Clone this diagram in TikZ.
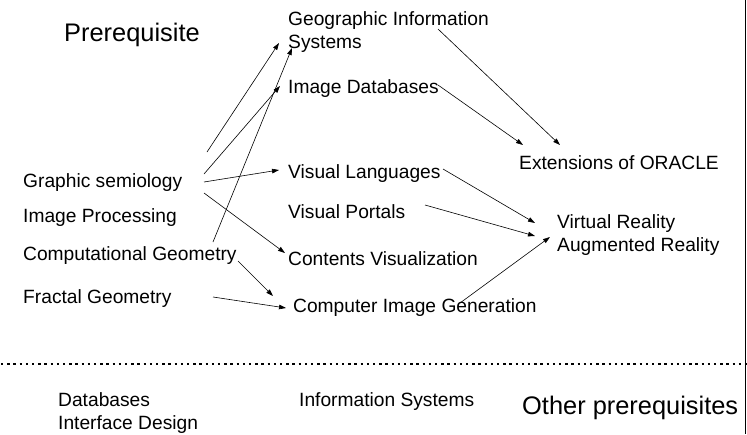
\documentclass[tikz,border=0pt]{standalone}
\usepackage{fontspec}
\setmainfont{Liberation Sans}
\usetikzlibrary{arrows.meta}

\tikzset{
  lbl/.style={anchor=base west, inner sep=0pt, align=left,
              font=\fontsize{19.2}{22.8}\selectfont},
  title/.style={anchor=base west, inner sep=0pt,
                font=\fontsize{25.4}{30}\selectfont},
  link/.style={line width=0.6pt, -{Triangle[length=7pt,width=4.6pt]}},
  divider/.style={line width=2.4pt, dash pattern=on 2.4pt off 3.8pt},
}

\begin{document}
\begin{tikzpicture}[x=1pt, y=-1pt]
  \useasboundingbox (0,0) rectangle (747,434);

  % frame edge on the right and the dotted separator
  \draw[line width=1.6pt] (745.5,0) -- (745.5,434);
  \draw[divider] (1,364) -- (747,364);

  % headings
  \node[title] (pre)   at (64,41)  {Prerequisite};
  \node[title] (other) at (522,414) {Other prerequisites};

  % left column
  \node[lbl] (gs)  at (23,187) {Graphic semiology};
  \node[lbl] (ip)  at (23,222) {Image Processing};
  \node[lbl] (cg)  at (23,260) {Computational Geometry};
  \node[lbl] (fg)  at (23,303) {Fractal Geometry};

  % middle column (two-line nodes are placed by their last baseline)
  \node[lbl] (gis) at (288,48)  {Geographic Information\\Systems};
  \node[lbl] (idb) at (288,93)  {Image Databases};
  \node[lbl] (vl)  at (288,178) {Visual Languages};
  \node[lbl] (vp)  at (288,218) {Visual Portals};
  \node[lbl] (cv)  at (288,265) {Contents Visualization};
  \node[lbl] (cig) at (293,312) {Computer Image Generation};

  % right column
  \node[lbl] (ora) at (519,169) {Extensions of ORACLE};
  \node[lbl] (vr)  at (557,251) {Virtual Reality\\Augmented Reality};

  % other prerequisites
  \node[lbl] (db)  at (58,429)  {Databases\\Interface Design};
  \node[lbl] (is)  at (299,406) {Information Systems};

  % connector end points
  \coordinate (s1)  at (207,152);
  \coordinate (t1)  at (279,43);
  \coordinate (s2)  at (204,174);
  \coordinate (t2)  at (280,86);
  \coordinate (s3)  at (213,242);
  \coordinate (t3)  at (292,48);
  \coordinate (s4)  at (204,182);
  \coordinate (t4)  at (279,170);
  \coordinate (s5)  at (204,193);
  \coordinate (t5)  at (285,253);
  \coordinate (s6)  at (238,261);
  \coordinate (t6)  at (273,296);
  \coordinate (s7)  at (213,297);
  \coordinate (t7)  at (286,308);
  \coordinate (s8)  at (438,85);
  \coordinate (t8)  at (523,145);
  \coordinate (s9)  at (438,29);
  \coordinate (t9)  at (560,145);
  \coordinate (s10) at (443,169);
  \coordinate (t10) at (535,223);
  \coordinate (s11) at (425,205);
  \coordinate (t11) at (535,236);
  \coordinate (s12) at (460,303);
  \coordinate (t12) at (550,237);

  \draw[link] (s1)  -- (t1);
  \draw[link] (s2)  -- (t2);
  \draw[link] (s3)  -- (t3);
  \draw[link] (s4)  -- (t4);
  \draw[link] (s5)  -- (t5);
  \draw[link] (s6)  -- (t6);
  \draw[link] (s7)  -- (t7);
  \draw[link] (s8)  -- (t8);
  \draw[link] (s9)  -- (t9);
  \draw[link] (s10) -- (t10);
  \draw[link] (s11) -- (t11);
  \draw[link] (s12) -- (t12);
\end{tikzpicture}
\end{document}
